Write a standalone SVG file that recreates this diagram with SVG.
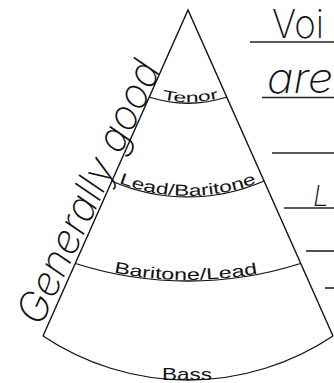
<svg xmlns="http://www.w3.org/2000/svg" width="334" height="383" viewBox="0 0 334 383">
<style>
.edge{fill:none;stroke:#111;stroke-width:1.4;stroke-linejoin:miter}
.band{fill:none;stroke:#111;stroke-width:1.3}
.lbl{font-family:"Liberation Sans",Arial,sans-serif;fill:#111}
.hand{font-family:Inter,"DejaVu Sans",sans-serif;font-weight:200;fill:#111}
.rule{stroke:#222;stroke-width:1.6}
</style>
<defs>
<path id="tpTenor" d="M149,96 A128,128 0 0 0 227,96"/>
<path id="tpLead" d="M111.5,180 A190,190 0 0 0 264,180"/>
<path id="tpBari" d="M75.5,262.5 A370,370 0 0 0 300.5,262.5"/>
</defs>
<rect width="334" height="383" fill="#fff"/>
<g id="cone">
<path class="edge" d="M43,336 L188,10 L333,336"/>
<path class="band" d="M43,336 A261,261 0 0 0 333,336"/>
</g>
<g id="connectors">
<path class="band" d="M149,97 A128,128 0 0 0 227,97"/>
<path class="band" d="M111.5,181 A190,190 0 0 0 264,181"/>
<path class="band" d="M75.5,263.5 A370,370 0 0 0 300.5,263.5"/>
</g>
<g id="tenor"><text class="lbl" font-size="14"><textPath href="#tpTenor" startOffset="53%" text-anchor="middle" textLength="57" lengthAdjust="spacingAndGlyphs">Tenor</textPath></text></g>
<g id="lead-baritone"><text class="lbl" font-size="16"><textPath href="#tpLead" startOffset="50%" text-anchor="middle" textLength="141" lengthAdjust="spacingAndGlyphs">Lead/Baritone</textPath></text></g>
<g id="baritone-lead"><text class="lbl" font-size="16"><textPath href="#tpBari" startOffset="49%" text-anchor="middle" textLength="145" lengthAdjust="spacingAndGlyphs">Baritone/Lead</textPath></text></g>
<g id="bass"><text class="lbl" font-size="17" x="187" y="379.5" text-anchor="middle" textLength="50" lengthAdjust="spacingAndGlyphs">Bass</text></g>
<g id="handwriting">
<text class="hand" font-size="41" font-style="italic" transform="translate(41,327) rotate(-65)" textLength="285" lengthAdjust="spacingAndGlyphs">Generally good</text>
<text class="hand" font-size="40" x="272" y="38" textLength="52" lengthAdjust="spacingAndGlyphs">Voi</text>
<text class="hand" font-size="42" font-style="italic" x="267" y="93" textLength="66" lengthAdjust="spacingAndGlyphs">are</text>
<text class="hand" font-size="28" font-style="italic" x="313" y="206">L</text>
</g>
<g id="rules">
<line class="rule" x1="250" y1="42" x2="334" y2="42"/>
<line class="rule" x1="262" y1="97.5" x2="334" y2="97.5"/>
<line class="rule" x1="272" y1="153" x2="334" y2="153"/>
<line class="rule" x1="284" y1="208" x2="334" y2="208"/>
<line class="rule" x1="306" y1="251" x2="334" y2="251"/>
<line class="rule" x1="325" y1="288" x2="334" y2="288"/>
</g>
</svg>
